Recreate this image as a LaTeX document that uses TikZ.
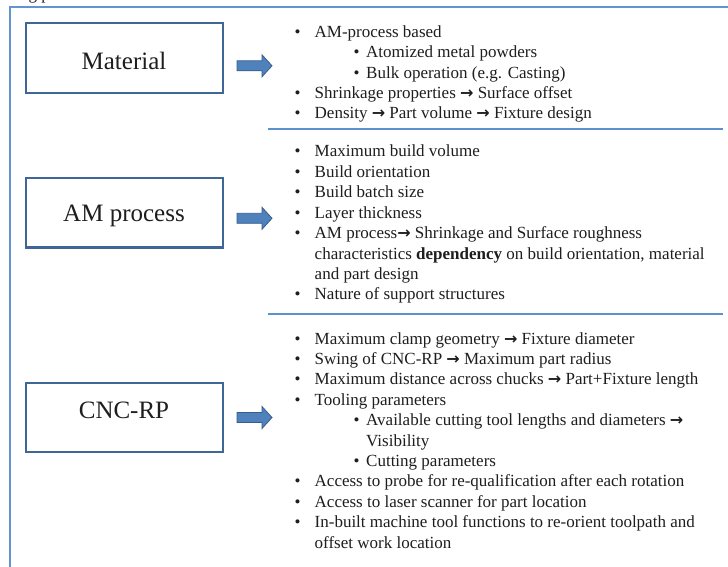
\documentclass[tikz,border=0pt]{standalone}
\usepackage{fontspec}
\setmainfont{Liberation Serif}
\newfontfamily\symfont{DejaVu Sans}
\newcommand\arr{{\symfont\bfseries\fontsize{16}{16}\selectfont →}}
\newcommand\bul{\makebox[20.5pt][l]{\hspace*{0.5pt}•}}
\newcommand\sbul{\makebox[12.5pt][l]{•}}
\definecolor{framecol}{RGB}{98,148,207}
\definecolor{sepcol}{RGB}{91,145,205}
\definecolor{boxcol}{RGB}{62,103,152}
\definecolor{arrfill}{RGB}{79,129,189}
\definecolor{arrdraw}{RGB}{56,93,138}
\definecolor{txt}{RGB}{30,30,30}
\tikzset{
  frame/.style={draw=framecol, line width=2pt},
  sepline/.style={draw=sepcol, line width=1.6pt},
  catbox/.style={draw=boxcol, line width=2.2pt, fill=white, minimum width=196.5pt, minimum height=69.5pt, inner sep=0pt},
  catlabel/.style={anchor=base, inner sep=0pt, text=txt, font=\fontsize{25}{30}\selectfont},
  item/.style={anchor=base west, inner sep=0pt, text=txt, font=\fontsize{17}{20}\selectfont},
  arrowstyle/.style={fill=arrfill, draw=arrdraw, line width=0.8pt, line join=miter},
  barrow/.pic={\filldraw[arrowstyle] (0,-5) -- (25,-5) -- (25,-11) -- (35,0) -- (25,11) -- (25,5) -- (0,5) -- cycle;}
}
\begin{document}
\begin{tikzpicture}[x=1pt,y=-1pt]
\useasboundingbox (0,0) rectangle (728,567);
\fill[white] (0,0) rectangle (728,567);
% caption fragment (cut off at top, as in the reference)
\node[item] (capfrag) at (20,-0.5) {ng p};
% outer frame
\coordinate (fbl) at (9.5,570);
\coordinate (ftl) at (9.5,6.7);
\coordinate (ftr) at (731,6.7);
\draw[frame] (fbl) -- (ftl) -- (ftr);
% separators
\coordinate (s1a) at (268,129); \coordinate (s1b) at (723,129);
\coordinate (s2a) at (268,314); \coordinate (s2b) at (723,314);
\draw[sepline] (s1a) -- (s1b);
\draw[sepline] (s2a) -- (s2b);
% category boxes
\node[catbox] (mat) at (124.35,58) {};
\node[catbox] (amp) at (124.35,212.8) {};
\node[catbox] (cnc) at (124.35,417.5) {};
\node[catlabel] (matl) at (124,70) {Material};
\node[catlabel] (ampl) at (124,221.7) {AM process};
\node[catlabel] (cncl) at (124,418.3) {CNC-RP};
% block arrows
\pic at (237,65.8) {barrow};
\pic at (237,218.3) {barrow};
\pic at (237,417.5) {barrow};
% Material list
\node[item] (m1) at (294,37.7) {\bul AM-process based};
\node[item] (m2) at (353.5,57.9) {\sbul Atomized metal powders};
\node[item] (m3) at (353.5,78.1) {\sbul Bulk operation (e.g. Casting)};
\node[item] (m4) at (294,98.3) {\bul Shrinkage properties \arr\ Surface offset};
\node[item] (m5) at (294,118.5) {\bul Density \arr\ Part volume \arr\ Fixture design};
% AM process list
\node[item] (a1) at (294,157) {\bul Maximum build volume};
\node[item] (a2) at (294,177.4) {\bul Build orientation};
\node[item] (a3) at (294,197.8) {\bul Build batch size};
\node[item] (a4) at (294,218.2) {\bul Layer thickness};
\node[item] (a5) at (294,238.6) {\bul AM process\arr\ Shrinkage and Surface roughness};
\node[item] (a6) at (314.5,259) {characteristics \textbf{dependency} on build orientation, material};
\node[item] (a7) at (314.5,279.4) {and part design};
\node[item] (a8) at (294,299.8) {\bul Nature of support structures};
% CNC-RP list
\node[item] (c1) at (294,344) {\bul Maximum clamp geometry \arr\ Fixture diameter};
\node[item] (c2) at (294,364.4) {\bul Swing of CNC-RP \arr\ Maximum part radius};
\node[item] (c3) at (294,384.8) {\bul Maximum distance across chucks \arr\ Part+Fixture length};
\node[item] (c4) at (294,405.2) {\bul Tooling parameters};
\node[item] (c5) at (353.5,425.6) {\sbul Available cutting tool lengths and diameters \arr};
\node[item] (c6) at (366,446) {Visibility};
\node[item] (c7) at (353.5,466.4) {\sbul Cutting parameters};
\node[item] (c8) at (294,486.8) {\bul Access to probe for re-qualification after each rotation};
\node[item] (c9) at (294,507.2) {\bul Access to laser scanner for part location};
\node[item] (c10) at (294,527.6) {\bul In-built machine tool functions to re-orient toolpath and};
\node[item] (c11) at (314.5,548) {offset work location};
\end{tikzpicture}
\end{document}
